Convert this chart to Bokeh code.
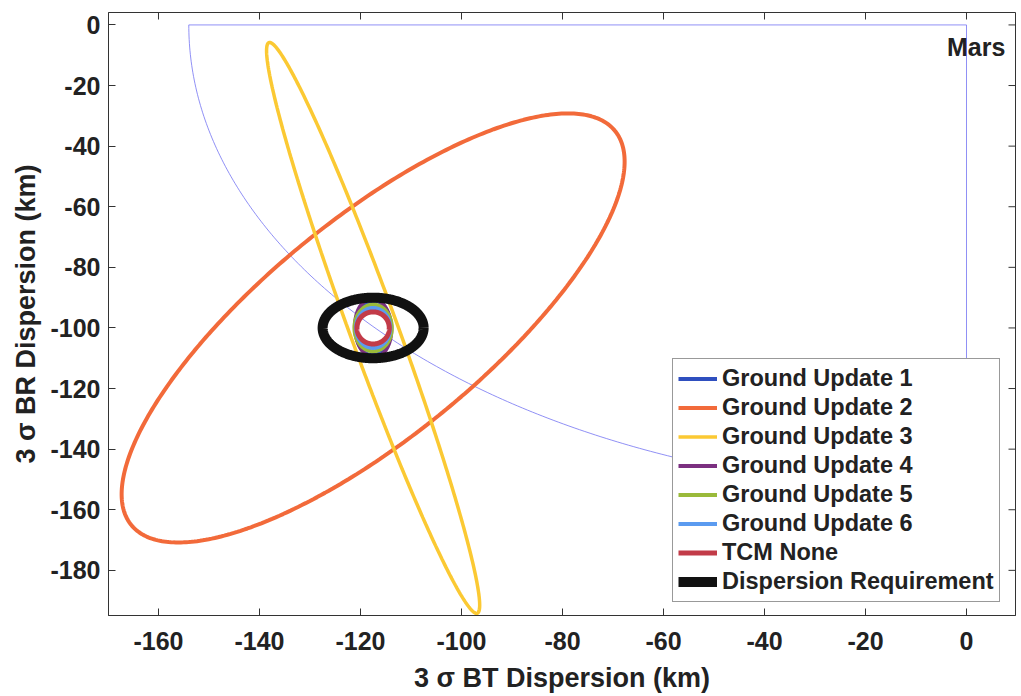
import numpy as np
from bokeh.plotting import figure
from bokeh.models import Legend, LegendItem
from bokeh.embed import file_html
from bokeh.resources import INLINE
from bokeh.core.properties import value

# ---- data ----
series_names = ["Ground Update 1", "Ground Update 2", "Ground Update 3",
                "Ground Update 4", "Ground Update 5", "Ground Update 6",
                "TCM None", "Dispersion Requirement"]
center_bt = [-117.5, -117.5, -117.5, -117.5, -117.5, -117.5, -117.5, -117.5]
center_br = [-100.0, -100.0, -100.0, -100.0, -100.0, -100.0, -100.0, -100.0]
extent_bt = [3.4, 49.8, 21.1, 3.6, 3.7, 3.4, 3.2, 10.0]     # 3-sigma half extent in BT (km)
extent_br = [9.0, 70.8, 94.2, 9.7, 7.7, 6.6, 5.3, 10.0]     # 3-sigma half extent in BR (km)
correlation = [0.05, 0.775, -0.971, -0.05, 0.0, 0.0, 0.0, 0.0]
series_colors = ["#2f4fbf", "#f26a3a", "#fbc933", "#7b3080", "#9aba3a",
                 "#5b9bf0", "#c23b48", "#111111"]
series_widths = [4, 4, 3.5, 4, 4, 4, 5, 10]

mars_radius = 154.0
mars_label = "Mars"
x_ticks = [-160, -140, -120, -100, -80, -60, -40, -20, 0]
y_ticks = [-180, -160, -140, -120, -100, -80, -60, -40, -20, 0]

X_MIN, X_MAX = -169.9, 9.7
Y_MIN, Y_MAX = -194.9, 4.1

FONT = "Liberation Sans"
TXT = "#222222"
AX = "#333333"

p = figure(width=1021, height=696, x_range=(X_MIN, X_MAX), y_range=(Y_MIN, Y_MAX),
           output_backend="svg", toolbar_location=None,
           min_border_left=108, min_border_right=6, min_border_top=12, min_border_bottom=81)
p.xgrid.visible = False
p.ygrid.visible = False
p.outline_line_color = AX
p.background_fill_color = "white"
p.border_fill_color = "white"

for ax, ticks in ((p.xaxis[0], x_ticks), (p.yaxis[0], y_ticks)):
    ax.ticker = ticks
    ax.major_tick_in = 7
    ax.major_tick_out = 0
    ax.minor_tick_in = 0
    ax.minor_tick_out = 0
    ax.axis_line_color = AX
    ax.major_tick_line_color = AX
    ax.major_label_overrides = {t: str(t) for t in ticks}
    ax.major_label_text_font = FONT
    ax.major_label_text_font_style = "bold"
    ax.major_label_text_font_size = "25px"
    ax.major_label_text_color = TXT
    ax.axis_label_text_font = FONT
    ax.axis_label_text_font_style = "bold"
    ax.axis_label_text_font_size = "27px"
    ax.axis_label_text_color = TXT

p.xaxis[0].major_label_standoff = 16
p.yaxis[0].major_label_standoff = 8
p.xaxis[0].axis_label = "3 σ BT Dispersion (km)"
p.yaxis[0].axis_label = "3 σ BR Dispersion (km)"
p.xaxis[0].axis_label_standoff = 10
p.yaxis[0].axis_label_standoff = 6

# inward ticks on the top and right edges of the box
p.ray(x=x_ticks, y=[Y_MAX] * len(x_ticks), length=7, length_units="screen",
      angle=-np.pi / 2, line_color=AX, line_width=1)
p.ray(x=[X_MAX] * len(y_ticks), y=y_ticks, length=7, length_units="screen",
      angle=np.pi, line_color=AX, line_width=1)

# ---- Mars quarter-disk boundary ----
ang = np.linspace(np.pi, 1.5 * np.pi, 200)
mx = np.concatenate([[0.0], mars_radius * np.cos(ang), [0.0]])
my = np.concatenate([[0.0], mars_radius * np.sin(ang), [0.0]])
my[1] = 0.0
p.line(mx, my, line_color="#7474f2", line_width=1, line_alpha=0.8)
p.text(x=[7.7], y=[-7.4], text=[mars_label], text_align="right", text_baseline="middle",
       text_font=value(FONT), text_font_style="bold", text_font_size="25px", text_color=TXT)

# ---- dispersion ellipses ----
t = np.linspace(0, 2 * np.pi, 400)
items = []
for i, name in enumerate(series_names):
    phi = np.arccos(correlation[i])
    ex = center_bt[i] + extent_bt[i] * np.cos(t)
    ey = center_br[i] + extent_br[i] * np.cos(t + phi)
    r = p.line(ex, ey, line_color=series_colors[i], line_width=series_widths[i])
    items.append(LegendItem(label=name, renderers=[r]))

legend = Legend(items=items, location=(564, 13))
legend.label_text_font = FONT
legend.label_text_font_style = "bold"
legend.label_text_font_size = "23.5px"
legend.label_text_color = TXT
legend.glyph_width = 39
legend.glyph_height = 29
legend.label_height = 29
legend.label_standoff = 5
legend.spacing = 0
legend.padding = 5
legend.margin = 0
legend.border_line_color = AX
legend.border_line_width = 1
legend.background_fill_color = "white"
legend.background_fill_alpha = 1.0
p.add_layout(legend)

open("out.html", "w").write(file_html(p, INLINE))
